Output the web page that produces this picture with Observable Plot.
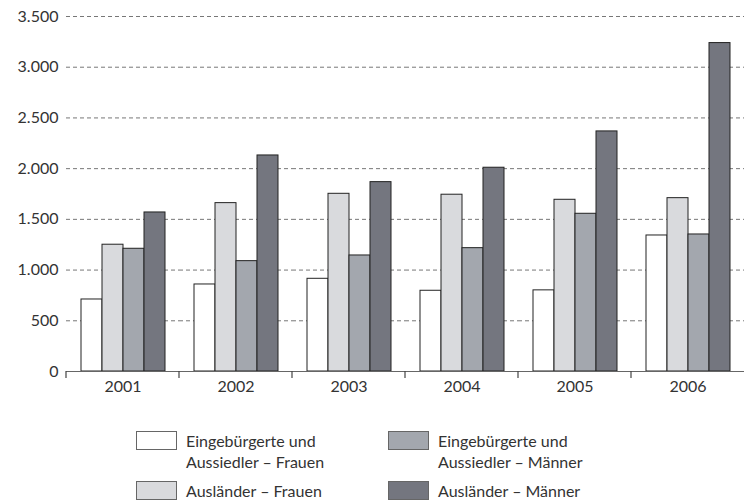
<!DOCTYPE html>
<html>
<head>
<meta charset="utf-8">
<script src="https://cdn.jsdelivr.net/npm/d3@7"></script>
<script src="https://cdn.jsdelivr.net/npm/@observablehq/plot@0.6"></script>
<style>
  html, body { margin: 0; padding: 0; background: #fff; }
  body { width: 746px; height: 502px; position: relative; overflow: hidden; font-family: Lato, "Open Sans", sans-serif; color: #333; }
  #chart { position: absolute; left: 0; top: 0; }
  .legend-item { position: absolute; display: flex; align-items: flex-start; font-size: 16px; line-height: 21px; color: #333; }
  .legend-swatch { width: 39px; height: 17px; border: 1px solid #666; margin-right: 9px; margin-top: 1px; flex: none; }
</style>
</head>
<body>
<div id="chart"></div>
<div id="legend"></div>
<script>
const years = ["2001", "2002", "2003", "2004", "2005", "2006"];
const series = [
  "Eingebürgerte und Aussiedler – Frauen",
  "Ausländer – Frauen",
  "Eingebürgerte und Aussiedler – Männer",
  "Ausländer – Männer"
];
const legendLabels = [
  "Eingebürgerte und<br>Aussiedler – Frauen",
  "Ausländer – Frauen",
  "Eingebürgerte und<br>Aussiedler – Männer",
  "Ausländer – Männer"
];
const eaFrauen   = [710, 858, 914, 796, 800, 1341];
const ausFrauen  = [1250, 1660, 1752, 1743, 1693, 1709];
const eaMaenner  = [1210, 1088, 1144, 1216, 1555, 1351];
const ausMaenner = [1568, 2130, 1867, 2009, 2367, 3238];
const yTicks = [0, 500, 1000, 1500, 2000, 2500, 3000, 3500];
const colors = ["#ffffff", "#d9dadd", "#a3a7ae", "#74767f"];

const valuesBySeries = [eaFrauen, ausFrauen, eaMaenner, ausMaenner];
const data = [];
years.forEach((yr, i) => {
  series.forEach((s, j) => data.push({year: yr, series: s, value: valuesBySeries[j][i]}));
});

const de = d3.formatLocale({decimal: ",", thousands: ".", grouping: [3], currency: ["", " €"]});
const fmt = de.format(",");

const plot = Plot.plot({
  width: 746,
  height: 400,
  marginLeft: 63,
  marginRight: 0,
  marginTop: 16,
  marginBottom: 29,
  style: {fontFamily: "Lato, 'Open Sans', sans-serif", fontSize: "16px", color: "#333", background: "#fff"},
  fx: {domain: years, paddingInner: 0, paddingOuter: 0, label: null, tickSize: 0, tickPadding: 9},
  x: {domain: series, paddingInner: 0, paddingOuter: 0.65, axis: null},
  y: {domain: [0, 3500], ticks: yTicks, tickFormat: fmt, label: null, tickSize: 0, tickPadding: 8},
  color: {domain: series, range: colors},
  marks: [
    Plot.ruleY(yTicks.filter(d => d > 0), {stroke: "#777", strokeWidth: 1, strokeDasharray: "4,3"}),
    Plot.barY(data, {fx: "year", x: "series", y: "value", fill: "series", stroke: "#222", strokeWidth: 1}),
    Plot.ruleY([0], {stroke: "#666", strokeWidth: 1.2})
  ]
});
document.getElementById("chart").appendChild(plot);

// boundary tick marks between year groups, positioned from the fx scale
const fxScale = plot.scale("fx");
const yScale = plot.scale("y");
const y0 = yScale.apply(0);
const svg = d3.select(plot);
const g = svg.append("g").attr("stroke", "#444").attr("stroke-width", 1.2);
years.forEach(yr => {
  const x = fxScale.apply(yr);
  g.append("line").attr("x1", x).attr("x2", x).attr("y1", y0).attr("y2", y0 + 7);
});

// legend
const legendPos = [
  {left: 136, top: 430},
  {left: 136, top: 480},
  {left: 388, top: 430},
  {left: 388, top: 480}
];
const legend = document.getElementById("legend");
series.forEach((s, i) => {
  const item = document.createElement("div");
  item.className = "legend-item";
  item.style.left = legendPos[i].left + "px";
  item.style.top = legendPos[i].top + "px";
  item.innerHTML = `<div class="legend-swatch" style="background:${colors[i]}"></div><div>${legendLabels[i]}</div>`;
  legend.appendChild(item);
});
</script>
</body>
</html>
